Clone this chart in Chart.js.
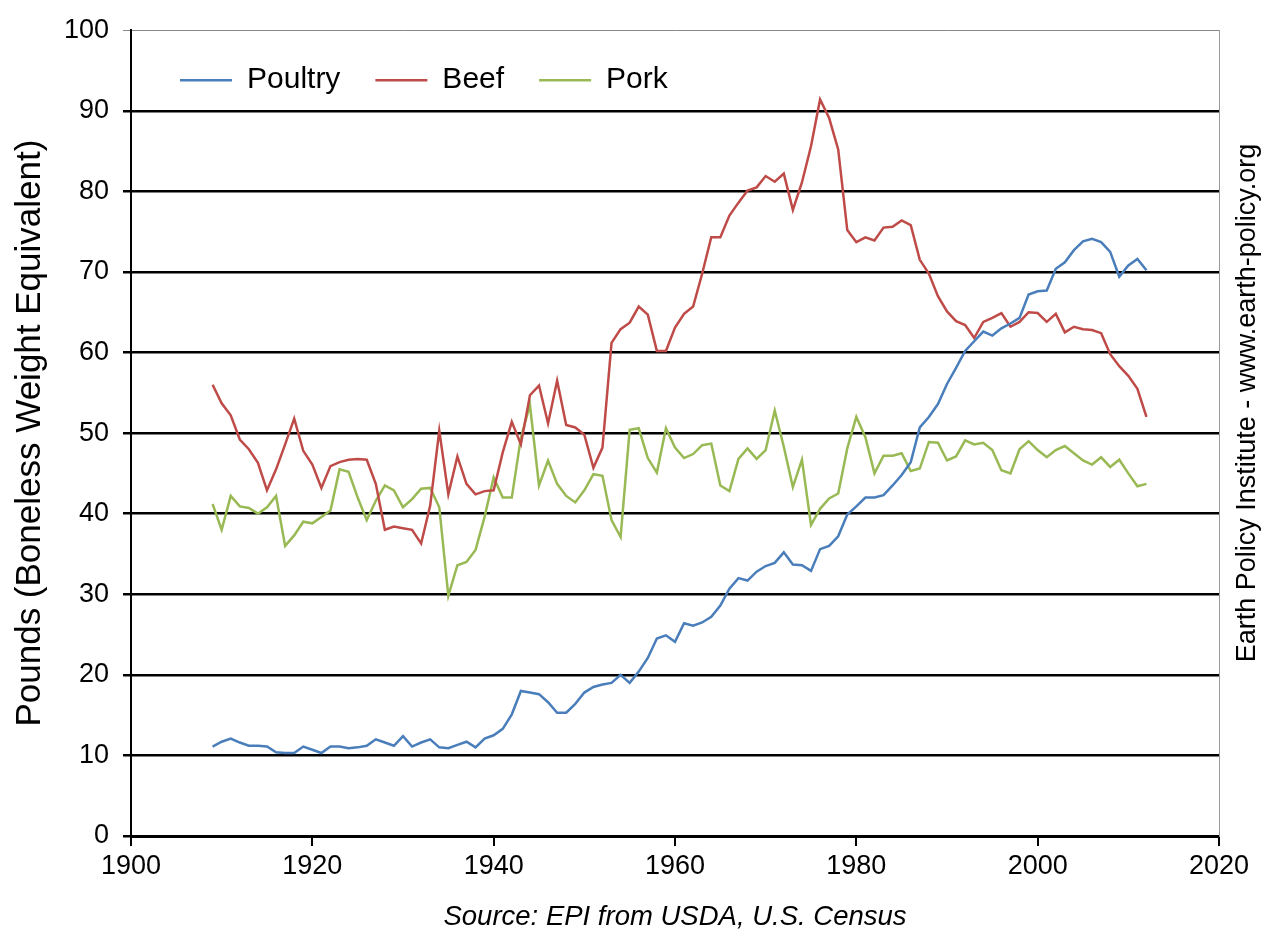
<!DOCTYPE html>
<html>
<head>
<meta charset="utf-8">
<script src="https://cdn.jsdelivr.net/npm/chart.js@4/dist/chart.umd.min.js"></script>
<style>
  body { margin: 0; background: #fff; }
  #wrap { width: 1268px; height: 936px; }
</style>
</head>
<body>
<div id="wrap"><canvas id="meatChart"></canvas></div>
<script>
// US per capita meat consumption, 1909-2012
const firstYear = 1909;

const poultry = [
  11.1,
  11.7, 12.1, 11.6, 11.2, 11.2, 11.1, 10.4, 10.3, 10.3, 11.1,
  10.7, 10.3, 11.1, 11.1, 10.9, 11.0, 11.2, 12.0, 11.6, 11.2,
  12.4, 11.1, 11.6, 12.0, 11.0, 10.9, 11.3, 11.7, 11.0, 12.1,
  12.5, 13.3, 15.1, 18.0, 17.8, 17.6, 16.6, 15.3, 15.3, 16.4,
  17.8, 18.5, 18.8, 19.0, 20.0, 19.0, 20.4, 22.1, 24.5, 24.9,
  24.1, 26.4, 26.1, 26.5, 27.2, 28.6, 30.7, 32.0, 31.7, 32.8,
  33.5, 33.9, 35.2, 33.7, 33.6, 32.9, 35.6, 36.0, 37.2, 39.9,
  40.9, 42.0, 42.0, 42.3, 43.5, 44.8, 46.4, 50.7, 52.0, 53.6,
  56.1, 58.1, 60.2, 61.4, 62.6, 62.1, 63.0, 63.6, 64.3, 67.2,
  67.6, 67.7, 70.4, 71.2, 72.7, 73.8, 74.1, 73.7, 72.5, 69.4,
  70.8, 71.6, 70.2
];

const beef = [
  56.0,
  53.7, 52.2, 49.2, 48.0, 46.3, 42.9, 45.5, 48.6, 51.8, 47.8,
  46.1, 43.2, 45.9, 46.4, 46.7, 46.8, 46.7, 43.7, 38.0, 38.4,
  38.2, 38.0, 36.3, 41.0, 50.3, 42.4, 47.1, 43.7, 42.4, 42.8,
  42.9, 47.6, 51.4, 48.6, 54.7, 55.9, 51.2, 56.5, 51.0, 50.7,
  49.8, 45.7, 48.2, 61.2, 62.9, 63.7, 65.7, 64.7, 60.2, 60.2,
  63.1, 64.8, 65.7, 69.8, 74.3, 74.3, 77.0, 78.6, 80.1, 80.5,
  81.9, 81.2, 82.2, 77.7, 81.1, 85.6, 91.4, 89.1, 85.2, 75.2,
  73.7, 74.3, 73.9, 75.5, 75.6, 76.4, 75.8, 71.5, 69.8, 67.0,
  65.1, 63.9, 63.4, 61.8, 63.8, 64.3, 64.9, 63.2, 63.8, 65.0,
  64.9, 63.8, 64.8, 62.5, 63.2, 62.9, 62.8, 62.4, 59.8, 58.3,
  57.1, 55.5, 52.0
];

const pork = [
  41.2,
  38.0, 42.2, 40.9, 40.7, 40.0, 40.8, 42.2, 36.0, 37.3, 39.0,
  38.8, 39.6, 40.4, 45.5, 45.2, 42.0, 39.2, 41.6, 43.5, 42.9,
  40.8, 41.8, 43.1, 43.2, 40.8, 29.8, 33.6, 34.0, 35.5, 39.6,
  44.5, 42.0, 42.0, 49.4, 53.5, 43.5, 46.6, 43.7, 42.2, 41.4,
  42.9, 44.9, 44.7, 39.2, 37.1, 50.4, 50.6, 46.9, 45.1, 50.6,
  48.2, 46.9, 47.4, 48.5, 48.7, 43.5, 42.8, 46.8, 48.1, 46.8,
  47.9, 52.8, 48.3, 43.3, 46.7, 38.6, 40.6, 41.9, 42.5, 48.1,
  52.0, 49.5, 45.0, 47.2, 47.2, 47.5, 45.3, 45.6, 48.9, 48.8,
  46.6, 47.1, 49.1, 48.6, 48.8, 47.9, 45.4, 45.0, 48.0, 49.0,
  47.9, 47.0, 47.9, 48.4, 47.5, 46.6, 46.1, 47.0, 45.8, 46.7,
  45.0, 43.4, 43.7
];

const xTicks = [1900, 1920, 1940, 1960, 1980, 2000, 2020];
const yTicks = [0, 10, 20, 30, 40, 50, 60, 70, 80, 90, 100];

const years = poultry.map((_, i) => firstYear + i);
const toPoints = arr => arr.map((v, i) => ({ x: years[i], y: v }));

const font = 'Liberation Sans, Arial, sans-serif';

// keep the legend in one row inside the plot, like the original
const legendRow = {
  id: 'legendRow',
  afterInit(chart) {
    if (chart.legend) chart.legend.isHorizontal = () => true;
  },
  afterLayout(chart) {
    if (chart.legend) chart.legend.left = chart.chartArea.left + 14;
  }
};

// rotated credit line on the right, reading bottom to top
const sideNote = {
  id: 'sideNote',
  afterDraw(chart) {
    const c = chart.ctx;
    c.save();
    c.translate(chart.chartArea.right + 29, 403);
    c.rotate(-Math.PI / 2);
    c.fillStyle = '#000';
    c.font = '27px ' + font;
    c.textAlign = 'center';
    c.textBaseline = 'middle';
    c.fillText('Earth Policy Institute - www.earth-policy.org', 0, 0);
    c.restore();
  }
};

const ctx = document.getElementById('meatChart').getContext('2d');

new Chart(ctx, {
  type: 'line',
  data: {
    datasets: [
      { label: 'Poultry', data: toPoints(poultry), borderColor: '#4a7ebb', backgroundColor: '#4a7ebb', borderWidth: 2.5 },
      { label: 'Beef', data: toPoints(beef), borderColor: '#be4b48', backgroundColor: '#be4b48', borderWidth: 2.5 },
      { label: 'Pork', data: toPoints(pork), borderColor: '#98b954', backgroundColor: '#98b954', borderWidth: 2.5 }
    ]
  },
  options: {
    responsive: true,
    maintainAspectRatio: false,
    animation: false,
    layout: { padding: { top: 22, left: 0, right: 0, bottom: 0 } },
    elements: {
      line: { tension: 0 },
      point: { radius: 0 }
    },
    plugins: {
      tooltip: { enabled: false },
      legend: {
        position: 'chartArea',
        align: 'start',
        labels: {
          usePointStyle: true,
          pointStyle: 'line',
          pointStyleWidth: 52,
          padding: 35,
          color: '#000',
          font: { family: font, size: 30 },
          generateLabels: chart =>
            Chart.defaults.plugins.legend.labels.generateLabels(chart)
              .map(item => Object.assign(item, { lineWidth: 2.5 }))
        }
      }
    },
    scales: {
      x: {
        type: 'linear',
        min: 1900,
        max: 2020,
        afterFit: s => { s.height = 100; },
        afterBuildTicks: s => { s.ticks = xTicks.map(v => ({ value: v })); },
        ticks: {
          color: '#000',
          padding: 4,
          maxRotation: 0,
          font: { family: font, size: 27 },
          callback: v => String(v)
        },
        grid: { drawOnChartArea: false, drawTicks: true, tickLength: 10, color: '#000', lineWidth: 2 },
        border: { color: '#000', width: 3 },
        title: {
          display: true,
          text: 'Source: EPI from USDA, U.S. Census',
          color: '#000',
          padding: { top: 0, bottom: 2 },
          font: { family: font, size: 27.5, style: 'italic' }
        }
      },
      y: {
        min: 0,
        max: 100,
        afterFit: s => { s.width = 131; },
        afterBuildTicks: s => { s.ticks = yTicks.map(v => ({ value: v })); },
        ticks: {
          color: '#000',
          padding: 14,
          font: { family: font, size: 27 }
        },
        grid: {
          color: c => (c.tick && c.tick.value === 100 ? '#888' : '#000'),
          lineWidth: c => (c.tick && c.tick.value === 100 ? 1 : 2.5),
          tickLength: 8
        },
        border: { color: '#000', width: 2 },
        title: {
          display: true,
          text: 'Pounds (Boneless Weight Equivalent)',
          color: '#000',
          padding: { top: 9, bottom: 0 },
          font: { family: font, size: 35 }
        }
      },
      y2: {
        position: 'right',
        display: true,
        min: 0,
        max: 100,
        afterFit: s => { s.width = 49; },
        ticks: { display: false },
        grid: { display: false },
        border: { color: '#999', width: 1 }
      }
    }
  },
  plugins: [legendRow, sideNote]
});
</script>
</body>
</html>
